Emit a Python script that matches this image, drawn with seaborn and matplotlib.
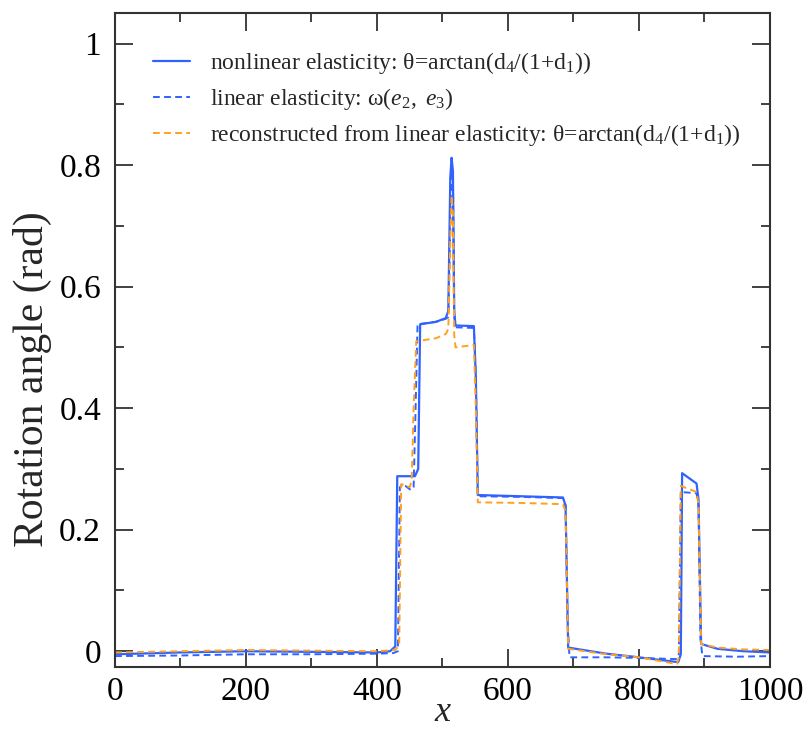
import matplotlib
matplotlib.use("Agg")
import matplotlib.pyplot as plt
from matplotlib.ticker import MultipleLocator
import pandas as pd
import seaborn as sns

# Rotation angle along x: nonlinear elasticity
x_nonlinear = [0, 100, 200, 300, 400, 420, 428, 431, 458, 463, 466, 490, 505, 509,
               512, 514, 516, 518, 520, 548, 551, 554, 620, 684, 688, 692, 750, 800,
               860, 864, 866, 888, 891, 895, 920, 960, 1000]
theta_nonlinear = [-0.005, -0.002, 0.0, -0.001, -0.002, 0.0, 0.008, 0.288, 0.288, 0.30,
                   0.538, 0.542, 0.548, 0.56, 0.78, 0.812, 0.79, 0.56, 0.536, 0.535,
                   0.45, 0.257, 0.255, 0.253, 0.24, 0.006, -0.004, -0.010, -0.018,
                   -0.005, 0.293, 0.276, 0.25, 0.012, 0.004, 0.0, -0.002]

# Linear elasticity: omega(e2, e3)
x_linear = [0, 100, 200, 300, 400, 425, 432, 435, 440, 452, 456, 459, 462, 490, 505,
            509, 512, 514, 516, 518, 520, 548, 551, 554, 620, 684, 688, 691, 694, 750,
            800, 858, 861, 864, 888, 891, 894, 897, 950, 1000]
omega_linear = [-0.008, -0.007, -0.005, -0.005, -0.004, -0.003, 0.0, 0.27, 0.275, 0.265,
                0.27, 0.4, 0.538, 0.542, 0.547, 0.55, 0.70, 0.80, 0.78, 0.55, 0.533,
                0.532, 0.45, 0.255, 0.254, 0.252, 0.24, 0.05, -0.010, -0.010, -0.011,
                -0.013, -0.005, 0.262, 0.26, 0.24, 0.02, -0.008, -0.009, -0.008]

# Reconstructed from linear elasticity
x_recon = [0, 100, 200, 300, 400, 428, 434, 437, 450, 453, 456, 460, 490, 505, 509,
           512, 514, 516, 518, 520, 548, 551, 554, 620, 684, 688, 692, 750, 800, 858,
           861, 864, 888, 891, 895, 920, 960, 1000]
theta_recon = [-0.002, 0.0, 0.002, 0.001, 0.0, 0.002, 0.01, 0.275, 0.27, 0.28, 0.40,
               0.51, 0.515, 0.522, 0.53, 0.68, 0.75, 0.72, 0.52, 0.50, 0.504, 0.40,
               0.245, 0.244, 0.242, 0.23, 0.004, -0.005, -0.010, -0.021, -0.01, 0.272,
               0.262, 0.24, 0.012, 0.006, 0.003, 0.002]

labels = [
    r"nonlinear elasticity: θ=arctan(d$_4$/(1+d$_1$))",
    r"linear elasticity: ω$\mathit{(e_2,\ e_3)}$",
    r"reconstructed from linear elasticity: θ=arctan(d$_4$/(1+d$_1$))",
]

sns.set_theme(style="ticks")
plt.rcParams["font.family"] = ["Liberation Serif", "DejaVu Serif"]
plt.rcParams["mathtext.fontset"] = "custom"
plt.rcParams["mathtext.rm"] = "Liberation Serif"
plt.rcParams["mathtext.it"] = "Liberation Serif:italic"

fig = plt.figure(figsize=(8.07, 7.29), dpi=100)
ax = fig.add_axes([0.1425, 0.085, 0.8115, 0.897])

blue = "#2f62ff"
orange = "#ffa01e"

sns.lineplot(x=x_nonlinear, y=theta_nonlinear, ax=ax, color=blue, lw=1.6,
             label=labels[0], sort=False)
sns.lineplot(x=x_linear, y=omega_linear, ax=ax, color=blue, lw=1.4,
             label=labels[1], sort=False)
sns.lineplot(x=x_recon, y=theta_recon, ax=ax, color=orange, lw=1.4,
             label=labels[2], sort=False)
ax.lines[1].set_linestyle((0, (3.5, 2.2)))
ax.lines[2].set_linestyle((0, (3.5, 2.2)))

ax.set_xlim(0, 1000)
ax.set_ylim(-0.026, 1.05)
ax.xaxis.set_major_locator(MultipleLocator(200))
ax.xaxis.set_minor_locator(MultipleLocator(100))
ax.yaxis.set_minor_locator(MultipleLocator(0.1))
ax.set_yticks([0, 0.2, 0.4, 0.6, 0.8, 1.0])
ax.set_yticklabels(["0", "0.2", "0.4", "0.6", "0.8", "1"])

for s in ax.spines.values():
    s.set_linewidth(1.5)
    s.set_color("#333333")
ax.tick_params(which="both", direction="in", top=True, right=True,
               colors="#333333", labelcolor="black", labelsize=24, width=1.3)
ax.tick_params(which="major", length=13)
ax.tick_params(which="minor", length=6.5)
ax.tick_params(axis="x", which="major", pad=7)
ax.tick_params(axis="y", which="major", pad=10)

ax.set_xlabel("x", fontsize=26, style="italic")
ax.xaxis.label.set_va("baseline")
ax.xaxis.set_label_coords(0.5, -0.083)
ax.set_ylabel("Rotation angle (rad)", fontsize=30)
ax.yaxis.set_label_coords(-0.096, 0.44)

leg = ax.legend(loc="upper left", bbox_to_anchor=(0.058, 0.943), frameon=False,
                fontsize=17, handlelength=1.57, handletextpad=0.85,
                labelspacing=0.42, borderaxespad=0, borderpad=0)

fig.savefig("out.png", dpi=100)
